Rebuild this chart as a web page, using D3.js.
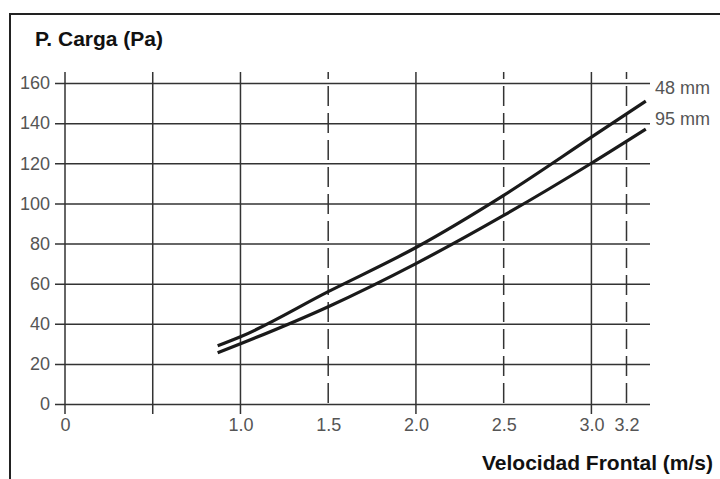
<!DOCTYPE html>
<html>
<head>
<meta charset="utf-8">
<script src="https://cdn.jsdelivr.net/npm/d3@7"></script>
<style>
  body { margin: 0; background: #fff; }
  .tick text { font-family: "Liberation Sans", Arial, sans-serif; font-size: 18px; fill: #555; }
  .label { font-family: "Liberation Sans", Arial, sans-serif; font-weight: bold; font-size: 21px; fill: #111; }
</style>
</head>
<body>
<div id="chart"></div>
<script>
// values
var speed = [0.87, 1.0, 1.5, 2.0, 2.5, 3.0, 3.31];
var p48 = [29, 33.5, 56, 78, 104, 133, 151];
var p95 = [25.5, 30, 48.5, 70, 94, 120, 137];
var seriesNames = ["48 mm", "95 mm"];

var xTicks = [0, 1.0, 1.5, 2.0, 2.5, 3.0, 3.2];
var xTickLabels = ["0", "1.0", "1.5", "2.0", "2.5", "3.0", "3.2"];
var solidX = [0, 0.5, 1.0, 2.0, 3.0];
var dashedX = [1.5, 2.5, 3.2];
var yTicks = [0, 20, 40, 60, 80, 100, 120, 140, 160];

(function() {
  var width = 720, height = 479;

  var svg = d3.select("#chart")
    .append("svg")
    .attr("width", width)
    .attr("height", height);

  // frame
  svg.append("path")
    .attr("d", "M10,479 V14 H720")
    .attr("fill", "none")
    .attr("stroke", "#222")
    .attr("stroke-width", 2);

  var x = d3.scaleLinear().domain([0, 3.2]).range([65, 626.5]);
  var y = d3.scaleLinear().domain([0, 160]).range([404, 83]);

  // y axis + horizontal grid
  var yAxis = d3.axisLeft(y)
    .tickValues(yTicks)
    .tickSize(-(650 - 55))
    .tickPadding(5);

  var gy = svg.append("g")
    .attr("class", "axis y-axis")
    .attr("transform", "translate(55,0)")
    .call(yAxis);
  gy.select(".domain").remove();
  gy.selectAll(".tick line").attr("stroke", "#333").attr("stroke-width", 1.5);

  // vertical grid
  svg.selectAll(".vsolid")
    .data(solidX)
    .enter().append("line")
    .attr("class", "vsolid")
    .attr("x1", function(d) { return x(d) })
    .attr("x2", function(d) { return x(d) })
    .attr("y1", 72)
    .attr("y2", 414)
    .attr("stroke", "#333")
    .attr("stroke-width", 1.5);

  svg.selectAll(".vdash")
    .data(dashedX)
    .enter().append("line")
    .attr("class", "vdash")
    .attr("x1", function(d) { return x(d) })
    .attr("x2", function(d) { return x(d) })
    .attr("y1", 72)
    .attr("y2", y(0))
    .attr("stroke", "#333")
    .attr("stroke-width", 1.5)
    .attr("stroke-dasharray", "20,7")
    .attr("stroke-dashoffset", 13);

  // x axis labels
  var xAxis = d3.axisBottom(x)
    .tickValues(xTicks)
    .tickFormat(function(d, i) { return xTickLabels[i] })
    .tickSize(0)
    .tickPadding(14);

  var gx = svg.append("g")
    .attr("class", "axis x-axis")
    .attr("transform", "translate(0," + y(0) + ")")
    .call(xAxis);
  gx.select(".domain").remove();

  // curves
  var line = d3.line()
    .x(function(d) { return x(d[0]) })
    .y(function(d) { return y(d[1]) })
    .curve(d3.curveMonotoneX);

  var series = [p48, p95];
  series.forEach(function(vals, k) {
    var pts = speed.map(function(s, i) { return [s, vals[i]] });
    svg.append("path")
      .datum(pts)
      .attr("d", line)
      .attr("fill", "none")
      .attr("stroke", "#1a1a1a")
      .attr("stroke-width", 3.2);
  });

  svg.selectAll(".series-label")
    .data(seriesNames)
    .enter().append("text")
    .attr("class", "series-label")
    .attr("x", 655)
    .attr("y", function(d, i) { return i == 0 ? 88 : 119 })
    .attr("dy", "0.35em")
    .style("font-family", "'Liberation Sans', Arial, sans-serif")
    .style("font-size", "18px")
    .style("fill", "#555")
    .text(function(d) { return d });

  svg.append("text")
    .attr("class", "label")
    .attr("x", 35)
    .attr("y", 46)
    .text("P. Carga (Pa)");

  svg.append("text")
    .attr("class", "label")
    .attr("text-anchor", "end")
    .attr("x", 713)
    .attr("y", 470)
    .text("Velocidad Frontal (m/s)");
})();
</script>
</body>
</html>
